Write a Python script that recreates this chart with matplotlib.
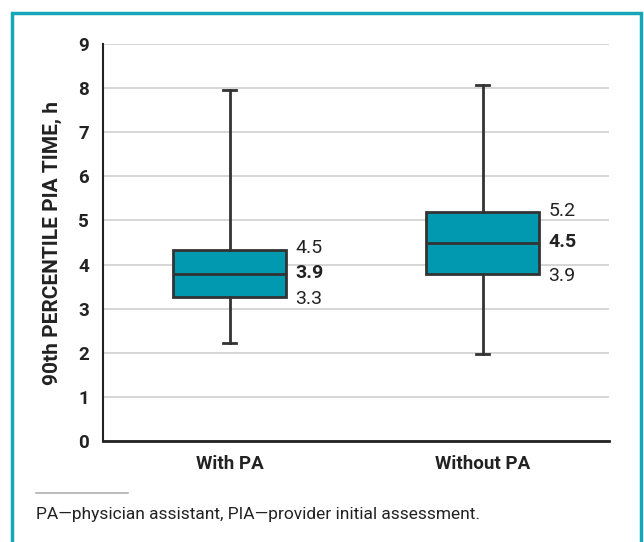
import matplotlib.pyplot as plt
from matplotlib.patches import Rectangle
from matplotlib.lines import Line2D

plt.rcParams['font.family'] = ['Roboto', 'DejaVu Sans']

# data
groups = ['With PA', 'Without PA']
q1 = [3.26, 3.78]
med = [3.78, 4.48]
q3 = [4.34, 5.19]
whislo = [2.22, 1.98]
whishi = [7.95, 8.08]
label_hi = ['4.5', '5.2']
label_med = ['3.9', '4.5']
label_lo = ['3.3', '3.9']

teal = '#0099b0'
edge = '#333333'

fig = plt.figure(figsize=(6.44, 5.42), dpi=100)
ax = fig.add_axes([0.16, 0.1863, 0.7857, 0.7325])

stats = []
for i in range(len(groups)):
    stats.append({'label': groups[i], 'q1': q1[i], 'med': med[i], 'q3': q3[i],
                  'whislo': whislo[i], 'whishi': whishi[i], 'fliers': []})

ax.bxp(stats, positions=[1, 2], widths=0.45, patch_artist=True, showfliers=False,
       boxprops=dict(facecolor=teal, edgecolor=edge, linewidth=2),
       medianprops=dict(color=edge, linewidth=2),
       whiskerprops=dict(color=edge, linewidth=2),
       capprops=dict(color=edge, linewidth=2),
       capwidths=0.05, zorder=3)

for i in range(len(groups)):
    x = i + 1 + 0.26
    ax.text(x, q3[i] + 0.03, label_hi[i], fontsize=14, color='#222222', va='center')
    ax.text(x, med[i] + 0.03, label_med[i], fontsize=14, color='#222222', va='center', fontweight='bold')
    ax.text(x, q1[i] - 0.05, label_lo[i], fontsize=14, color='#222222', va='center')

ax.set_xlim(0.5, 2.5)
ax.set_ylim(0, 9)
ax.set_yticks(range(0, 10))
ax.set_xticks([1, 2])
ax.set_xticklabels(groups, fontsize=13.5, fontweight='bold', color='#222222')
ax.tick_params(axis='y', length=0, labelsize=13.5, pad=10, labelcolor='#222222')
ax.tick_params(axis='x', length=0, pad=10)
for lbl in ax.get_yticklabels():
    lbl.set_fontweight('bold')
ax.grid(axis='y', color='#cfcfcf', linewidth=1.2, zorder=0)
ax.set_axisbelow(True)
for s in ['top', 'right']:
    ax.spines[s].set_visible(False)
ax.spines['left'].set_linewidth(1.5)
ax.spines['bottom'].set_linewidth(2)
ax.spines['left'].set_color('#222222')
ax.spines['bottom'].set_color('#222222')
ax.set_ylabel('90th PERCENTILE PIA TIME, h', fontsize=15, fontweight='bold', color='#222222', labelpad=12)

# frame and footnote
fig.patches.append(Rectangle((12 / 644, -0.05), 629 / 644, 1 - 13 / 542 + 0.05,
                             transform=fig.transFigure, fill=False, edgecolor='#17a5b8', linewidth=2.5))
fig.lines.append(Line2D([36 / 644, 128 / 644], [1 - 493 / 542] * 2, transform=fig.transFigure,
                        color='#b0b0b0', linewidth=1.2))
fig.text(36 / 644, 1 - 515 / 542, 'PA\u2014physician assistant, PIA\u2014provider initial assessment.',
         fontsize=12.5, color='#222222', va='center')

fig.savefig('out.png', dpi=100)
